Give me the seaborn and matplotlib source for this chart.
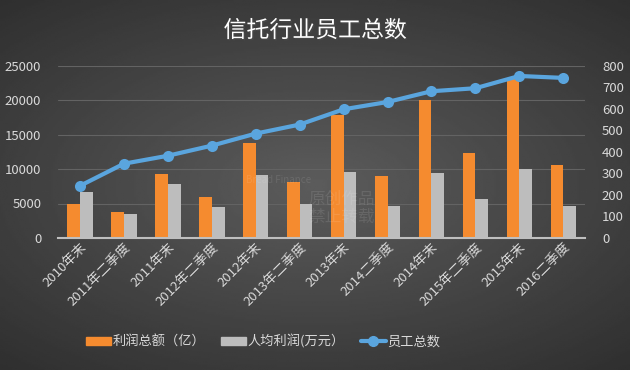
import numpy as np
import pandas as pd
import seaborn as sns
import matplotlib.pyplot as plt
import matplotlib.patheffects as pe
from matplotlib.patches import Patch
from matplotlib.lines import Line2D

# 数据
categories = ["2010年末", "2011年二季度", "2011年末", "2012年二季度", "2012年末", "2013年二季度",
              "2013年末", "2014二季度", "2014年末", "2015年二季度", "2015年末", "2016二季度"]
profit = [4900, 3730, 9260, 5910, 13760, 8090, 17830, 8970, 20010, 12310, 23160, 10560]
per_capita = [6640, 3440, 7800, 4460, 9110, 4900, 9550, 4610, 9400, 5620, 9980, 4610]
employees = [242, 345, 382, 429, 485, 527, 598, 632, 682, 696, 753, 744]

sns.set_theme(style="dark")
plt.rcParams['font.family'] = ['Noto Sans CJK SC', 'DejaVu Sans']

df = pd.DataFrame({
    "时间": categories * 2,
    "值": profit + per_capita,
    "系列": ["利润总额（亿）"] * len(categories) + ["人均利润(万元）"] * len(categories),
})

fig = plt.figure(figsize=(6.3, 3.7), dpi=100)

# 背景渐变
bg = fig.add_axes([0, 0, 1, 1], zorder=-10)
yy, xx = np.mgrid[-1:1:200j, -1:1:340j]
r = np.sqrt((xx * 0.9) ** 2 + (yy * 1.0) ** 2)
bg.imshow(0.36 - 0.13 * r, cmap="gray", vmin=0, vmax=1, aspect="auto", extent=[0, 1, 0, 1])
bg.set_axis_off()

ax = fig.add_axes([0.092, 0.357, 0.837, 0.465])
ax.patch.set_alpha(0)
sns.barplot(data=df, x="时间", y="值", hue="系列", palette=["#F58B2F", "#BDBDBD"],
            width=0.58, gap=0, saturation=1, linewidth=0, ax=ax, legend=False)
ax.set_ylim(0, 25000)
ax.set_xlim(-0.5, len(categories) - 0.5)
ax.set_yticks(range(0, 25001, 5000))
ax.yaxis.grid(True, color="#636363", lw=0.8)
ax.set_axisbelow(True)
ax.set_xlabel("")
ax.set_ylabel("")
for s in ["top", "right", "left"]:
    ax.spines[s].set_visible(False)
ax.spines["bottom"].set_color("#BFBFBF")
ax.spines["bottom"].set_linewidth(1.5)
ax.tick_params(axis="y", colors="#D9D9D9", labelsize=9.5, length=0, pad=12)
ax.tick_params(axis="x", colors="#D9D9D9", labelsize=9.5, length=0, pad=2)
ax.set_xticks(range(len(categories)))
ax.set_xticklabels(categories, rotation=45, ha="right", rotation_mode="anchor")

ax2 = ax.twinx()
sns.lineplot(x=np.arange(len(categories)), y=employees, color="#5AA5DE", lw=3,
             marker="o", markersize=8, markeredgewidth=0, ax=ax2)
ax2.set_ylim(0, 800)
ax2.set_yticks(range(0, 801, 100))
for s in ["top", "right", "left", "bottom"]:
    ax2.spines[s].set_visible(False)
ax2.tick_params(axis="y", colors="#D9D9D9", labelsize=9.5, length=0, pad=12)

# 标题
fig.text(0.5, 0.917, "信托行业员工总数", ha="center", va="center", fontsize=16.5,
         color="white", fontweight="medium",
         path_effects=[pe.withSimplePatchShadow(offset=(1, -1), alpha=0.6)])

# 水印
fig.text(0.39, 0.505, "Bread Finance", fontsize=7, color="white", alpha=0.1)
fig.text(0.49, 0.40, "原创作品\n禁止转载", fontsize=12, color="white", alpha=0.1, linespacing=1.1)

# 图例
handles = [Patch(color="#F58B2F"), Patch(color="#BDBDBD"),
           Line2D([], [], color="#5AA5DE", lw=3, marker="o", markersize=7)]
labels = ["利润总额（亿）", "人均利润(万元）", "员工总数"]
fig.legend(handles, labels, loc="center", bbox_to_anchor=(0.418, 0.077), ncol=3, frameon=False,
           fontsize=9.5, labelcolor="#D9D9D9", handlelength=1.9, handleheight=0.65,
           columnspacing=1.2, handletextpad=0.1)

fig.savefig("out.png", dpi=100)
